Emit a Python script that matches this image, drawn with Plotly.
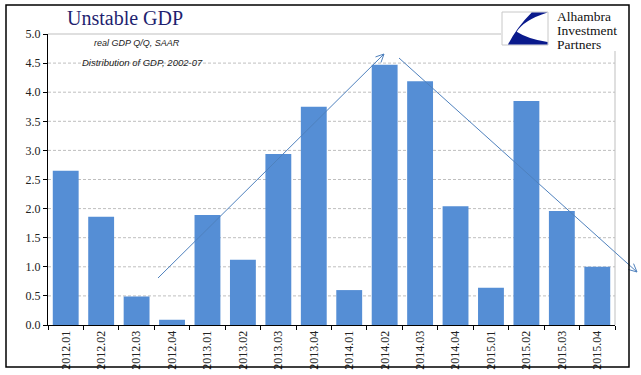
import math
import plotly.graph_objects as go

categories = ["2012.01", "2012.02", "2012.03", "2012.04",
              "2013.01", "2013.02", "2013.03", "2013.04",
              "2014.01", "2014.02", "2014.03", "2014.04",
              "2015.01", "2015.02", "2015.03", "2015.04"]
gdp_values = [2.65, 1.86, 0.49, 0.09,
              1.89, 1.12, 2.94, 3.75,
              0.60, 4.47, 4.19, 2.04,
              0.64, 3.85, 1.96, 1.00]
y_ticks = [0.0, 0.5, 1.0, 1.5, 2.0, 2.5, 3.0, 3.5, 4.0, 4.5, 5.0]

W, H = 641, 375
L, R, T, B = 48, 615, 34, 325


def px(x):
    return (x - L) / (R - L)


def py(y):
    return (B - y) / (B - T)


BAR = "#558ED5"
ARROW = "#4F81BD"
SERIF = "Liberation Serif, Times New Roman, serif"

fig = go.Figure()
fig.add_trace(go.Bar(x=categories, y=gdp_values, marker=dict(color=BAR, line=dict(width=0)),
                     width=0.73, hoverinfo="x+y"))

shapes = []
for t in y_ticks[1:-1]:
    shapes.append(dict(type="line", xref="paper", yref="y", x0=0, x1=1, y0=t, y1=t,
                       line=dict(color="#BFBFBF", width=1, dash="3px,2px"), layer="below"))
shapes.append(dict(type="line", xref="paper", yref="paper", x0=0, x1=1, y0=1, y1=1,
                   line=dict(color="#BFBFBF", width=1), layer="below"))
shapes.append(dict(type="line", xref="paper", yref="paper", x0=1, x1=1, y0=0, y1=1,
                   line=dict(color="#BFBFBF", width=1), layer="below"))


def arrow(x0, y0, x1, y1):
    out = []
    out.append(dict(type="line", xref="paper", yref="paper", x0=px(x0), y0=py(y0), x1=px(x1), y1=py(y1),
                    line=dict(color=ARROW, width=1)))
    ang = math.atan2(y1 - y0, x1 - x0)
    hl = 9
    for d in (0.45, -0.45):
        hx = x1 - hl * math.cos(ang + d)
        hy = y1 - hl * math.sin(ang + d)
        out.append(dict(type="line", xref="paper", yref="paper", x0=px(hx), y0=py(hy), x1=px(x1), y1=py(y1),
                        line=dict(color=ARROW, width=1)))
    return out


shapes += arrow(158, 278, 384, 54)
shapes += arrow(399, 58, 637, 272)

shapes.append(dict(type="rect", xref="paper", yref="paper", x0=px(501), x1=px(625), y0=py(51), y1=py(9),
                   fillcolor="white", line=dict(width=0)))
shapes.append(dict(type="rect", xref="paper", yref="paper", x0=px(502), x1=px(548), y0=py(45), y1=py(12),
                   fillcolor="white", line=dict(color="#C8C8C8", width=1)))


def P(x, y):
    return f"{px(x):.5f},{py(y):.5f}"


shapes.append(dict(type="path", xref="paper", yref="paper",
                   path=(f"M{P(531.7,12.5)} L{P(547.5,12.5)} Q{P(524,20)} {P(516.7,31.7)} "
                         f"Q{P(528,39)} {P(547.5,42)} L{P(547.5,44.5)} L{P(508,44.5)} "
                         f"Q{P(517,27)} {P(531.7,12.5)} Z"),
                   fillcolor="#0A1A8C", line=dict(width=0)))

shapes.append(dict(type="rect", xref="paper", yref="paper", x0=px(6), x1=px(629), y0=py(367), y1=py(5),
                   line=dict(color="black", width=1.5), fillcolor="rgba(0,0,0,0)"))

annotations = [
    dict(text="Unstable GDP", xref="paper", yref="paper", x=px(65), y=py(18), xanchor="left", yanchor="middle",
         showarrow=False, font=dict(family=SERIF, size=20, color="#1F1F70")),
    dict(text="<i>real GDP Q/Q, SAAR</i>", xref="paper", yref="paper", x=px(137), y=py(43),
         xanchor="center", yanchor="middle", showarrow=False,
         font=dict(family="Liberation Sans, Arial, sans-serif", size=9, color="#222222")),
    dict(text="<i>Distribution of GDP, 2002-07</i>", xref="paper", yref="paper", x=px(142), y=py(62),
         xanchor="center", yanchor="middle", showarrow=False,
         font=dict(family="Liberation Sans, Arial, sans-serif", size=9.5, color="#222222")),
]
for txt, yy in (("Alhambra", 16.5), ("Investment", 30.5), ("Partners", 45)):
    annotations.append(dict(text=txt, xref="paper", yref="paper", x=px(556), y=py(yy), xanchor="left",
                            yanchor="middle", showarrow=False, borderpad=0,
                            font=dict(family=SERIF, size=13.5, color="#111111")))

fig.update_layout(
    width=W, height=H,
    margin=dict(l=L, r=W - R, t=T, b=H - B, pad=0, autoexpand=False),
    paper_bgcolor="white", plot_bgcolor="white",
    showlegend=False, bargap=0.27,
    shapes=shapes, annotations=annotations,
    xaxis=dict(type="category", tickangle=-90, showgrid=False, showline=True, linecolor="black",
               linewidth=1, ticks="outside", tickson="boundaries", ticklen=4, tickcolor="black",
               automargin=False,
               tickfont=dict(family=SERIF, size=12, color="#222222"), fixedrange=True),
    yaxis=dict(range=[0, 5], tickvals=y_ticks, tickformat=".1f", showgrid=False, zeroline=False,
               showline=True, linecolor="black", linewidth=1, ticks="outside", ticklen=4,
               automargin=False,
               tickcolor="black", tickfont=dict(family=SERIF, size=12, color="#222222"), fixedrange=True),
)

fig.write_html("out.html", config={"displayModeBar": False},
               post_script="document.body.style.margin='0px';document.body.style.overflow='hidden';")
